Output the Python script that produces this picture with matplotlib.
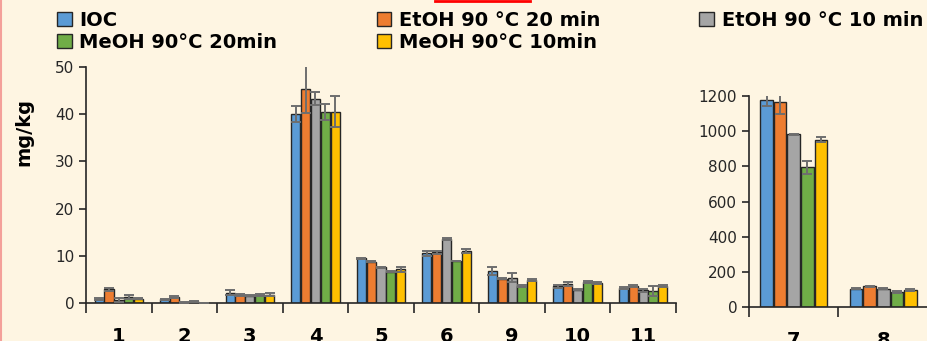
import matplotlib.pyplot as plt
import numpy as np
from matplotlib.patches import Patch
from matplotlib.lines import Line2D

series = ["IOC", "EtOH 90 °C 20 min", "EtOH 90 °C 10 min", "MeOH 90°C 20min", "MeOH 90°C 10min"]
colors = ["#5B9BD5", "#ED7D31", "#A5A5A5", "#70AD47", "#FFC000"]

cats_left = ["1", "2", "3", "4", "5", "6", "9", "10", "11"]
ioc_left = [0.9, 0.8, 2.2, 40.0, 9.5, 10.5, 6.8, 3.5, 3.2]
etoh20_left = [2.9, 1.3, 1.7, 45.3, 8.7, 10.7, 5.1, 4.0, 3.6]
etoh10_left = [0.7, 0.1, 1.5, 43.3, 7.6, 13.6, 5.4, 2.8, 2.7]
meoh20_left = [1.2, 0.3, 1.7, 40.5, 6.6, 8.9, 3.6, 4.5, 2.5]
meoh10_left = [0.9, 0.1, 1.8, 40.5, 7.1, 11.0, 4.8, 4.2, 3.6]
ioc_left_err = [0.2, 0.1, 0.5, 1.7, 0.1, 0.5, 0.8, 0.3, 0.2]
etoh20_left_err = [0.3, 0.2, 0.2, 5.0, 0.1, 0.3, 0.1, 0.5, 0.2]
etoh10_left_err = [0.4, 0.1, 0.1, 1.3, 0.1, 0.2, 1.0, 0.1, 0.3]
meoh20_left_err = [0.4, 0.1, 0.2, 1.7, 0.1, 0.1, 0.2, 0.2, 1.0]
meoh10_left_err = [0.1, 0.0, 0.3, 3.3, 0.5, 0.4, 0.2, 0.2, 0.3]

cats_right = ["7", "8"]
ioc_right = [1175, 104]
etoh20_right = [1166, 117]
etoh10_right = [982, 104]
meoh20_right = [794, 85]
meoh10_right = [952, 95]
ioc_right_err = [30, 4]
etoh20_right_err = [70, 5]
etoh10_right_err = [3, 3]
meoh20_right_err = [35, 4]
meoh10_right_err = [15, 5]

left_vals = [ioc_left, etoh20_left, etoh10_left, meoh20_left, meoh10_left]
left_errs = [ioc_left_err, etoh20_left_err, etoh10_left_err, meoh20_left_err, meoh10_left_err]
right_vals = [ioc_right, etoh20_right, etoh10_right, meoh20_right, meoh10_right]
right_errs = [ioc_right_err, etoh20_right_err, etoh10_right_err, meoh20_right_err, meoh10_right_err]

bg = "#FEF5E2"
edge = "#262626"
plt.rcParams['font.family'] = ['DejaVu Sans']

fig = plt.figure(figsize=(9.28, 3.41), dpi=100, facecolor=bg)
ax1 = fig.add_axes([86/928, 1-303/341, (676-86)/928, (303-67)/341])
ax2 = fig.add_axes([749/928, 1-307/341, (928-749)/928, (307-96)/341])

def draw(ax, cats, vals, errs, step, width):
    x = np.arange(len(cats))
    for i, (v, e) in enumerate(zip(vals, errs)):
        ax.bar(x + (i-2)*step, v, width, color=colors[i], edgecolor=edge, linewidth=1, zorder=2)
        ax.errorbar(x + (i-2)*step, v, yerr=e, fmt='none', ecolor="#6E6E6E", elinewidth=1.4,
                    capsize=3.5, capthick=1.4, zorder=3)
    ax.set_facecolor(bg)
    ax.set_xlim(-0.5, len(cats)-0.5)
    ax.set_xticks(x)
    ax.set_xticklabels(cats, fontsize=14, fontweight='bold')
    ax.set_xticks(np.arange(len(cats)+1)-0.5, minor=True)
    ax.tick_params(axis='x', which='major', length=0, pad=17)
    ax.tick_params(axis='x', which='minor', length=7, width=1.2, color=edge)
    ax.tick_params(axis='y', length=5, width=1.2, color=edge, labelsize=11, labelcolor="#262626")
    for s in ['top', 'right']:
        ax.spines[s].set_visible(False)
    for s in ['left', 'bottom']:
        ax.spines[s].set_color(edge)
        ax.spines[s].set_linewidth(1.2)

draw(ax1, cats_left, left_vals, left_errs, 0.15, 0.14)
ax1.set_ylim(0, 50)
ax1.set_yticks(range(0, 51, 10))

draw(ax2, cats_right, right_vals, right_errs, 0.152, 0.14)
ax2.set_ylim(0, 1200)
ax2.set_yticks(range(0, 1201, 200))

fig.text(24/928, 1-132/341, "mg/kg", rotation=90, fontsize=14, fontweight='bold',
         ha='center', va='center')

handles = [Patch(facecolor=c, edgecolor=edge, linewidth=1) for c in colors]
order = [0, 3, 1, 4, 2]
fig.legend([handles[i] for i in order], [series[i] for i in order], ncol=3,
           loc='upper left', bbox_to_anchor=(57/928, 1-11/341), frameon=False,
           prop={'size': 14, 'weight': 'bold'}, handlelength=0.75, handleheight=0.75,
           handletextpad=0.4, columnspacing=5.1, labelspacing=0.15, borderpad=0,
           borderaxespad=0)

fig.add_artist(Line2D([435/928, 530/928], [1-0.5/341, 1-0.5/341], color="#FF0000", linewidth=2))
fig.add_artist(Line2D([0.5/928, 0.5/928], [0, 1], color="#F4A09A", linewidth=1.5))

fig.savefig("out.png", dpi=100, facecolor=bg)
